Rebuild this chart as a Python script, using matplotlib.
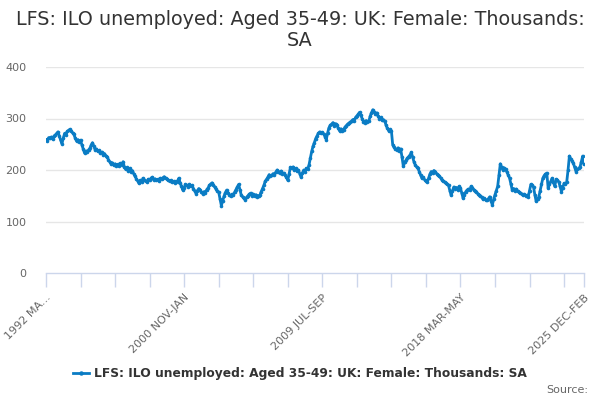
import matplotlib
matplotlib.use("Agg")
import matplotlib.pyplot as plt
from matplotlib.lines import Line2D

title = "LFS: ILO unemployed: Aged 35-49: UK: Female: Thousands:\nSA"
series_name = "LFS: ILO unemployed: Aged 35-49: UK: Female: Thousands: SA"

values = [
    259, 257, 263, 262, 264, 260, 266, 268, 271, 274, 266, 258, 251, 262, 271, 268, 275, 277, 279,
    276, 272, 269, 262, 256, 259, 255, 258, 249, 241, 233,
    237, 235, 239, 242, 248, 253, 246, 239, 241, 236, 238, 233, 235, 230, 232, 228, 226,
    220, 216, 212, 214, 209, 212, 208, 211, 207, 213, 210, 216, 206, 201, 205, 199, 203, 197, 199, 193,
    188, 183, 179, 174, 180, 177, 184, 181, 179, 177, 182, 180, 184, 186, 181, 183, 180,
    182, 179, 184, 182, 185, 187, 184, 182, 180, 178, 180, 176, 178, 175, 178, 177, 184, 175, 168, 161, 166, 172, 170,
    167, 172, 168, 170, 164, 159, 154, 160, 164, 161, 157, 154, 158, 156, 162, 165, 170, 173, 175, 171, 167, 163, 159, 157, 144, 131,
    140, 149, 156, 161, 156, 152, 149, 153, 151, 157, 162, 167, 172, 162, 151, 148, 145, 142, 147, 150, 153, 155, 150, 153, 149, 152, 148, 150, 151, 158, 164, 170,
    178, 182, 186, 191, 188, 190, 193, 191, 196, 200, 197, 195, 198, 193, 194, 190, 186, 180, 193, 205, 203, 206, 200, 203, 198, 200, 193, 186, 194, 200, 197, 203, 201, 210, 223,
    236, 246, 253, 261, 266, 271, 274, 271, 273, 270, 265, 259, 272, 282, 287, 289, 292, 286, 290, 287, 281, 276, 280, 275, 278, 283, 286, 289, 291, 293, 295, 298, 296, 302,
    305, 308, 312, 306, 300, 294, 292, 296, 293, 295, 304, 311, 317, 313, 309, 311, 304, 300, 302, 297, 298, 295, 287, 281, 276, 279, 276, 249,
    244, 241, 239, 243, 237, 241, 225, 207, 215, 219, 223, 226, 229, 234, 225, 216, 210, 206, 203, 197, 190, 184, 186, 181, 179, 177, 184, 192, 197,
    194, 199, 197, 193, 190, 188, 185, 181, 179, 177, 174, 172, 170, 160, 151, 160, 167, 164, 166, 162, 168, 165,
    155, 145, 152, 158, 161, 163, 161, 168, 166, 162, 160, 158, 154, 152, 150, 147, 143, 145, 142, 141, 144, 148, 140, 132, 143, 152, 160, 168, 190, 212,
    205, 200, 204, 201, 196, 190, 184, 172, 161, 164, 160, 163, 159, 157, 156, 154, 152, 153, 150, 151, 148, 160, 172, 170, 167, 152, 139, 143, 148,
    160, 172, 184, 189, 192, 194, 165, 172, 178, 184, 176, 168, 182, 180, 177, 168, 158, 166, 174, 172, 177, 200, 227, 222, 218, 213, 205, 197, 201, 203, 206, 216, 227, 211,
]

tick_labels = ["1992 MA...", "2000 NOV-JAN", "2009 JUL-SEP", "2018 MAR-MAY", "2025 DEC-FEB"]
label_idx = [0, 104, 208, 312, len(values) - 1]
y_ticks = [0, 100, 200, 300, 400]

plt.rcParams['font.family'] = ['DejaVu Sans']

fig = plt.figure(figsize=(6, 4), dpi=100)
ax = fig.add_axes([46 / 600, 1 - 273 / 400, 538 / 600, 206 / 400])

blue = "#0a7cc4"
x = list(range(len(values)))
ax.plot(x, values, color=blue, lw=2, marker="o", ms=2.6, mew=0, zorder=3)

ax.set_xlim(0, len(values) - 1)
ax.set_ylim(0, 400)

for s in ["top", "right", "left"]:
    ax.spines[s].set_visible(False)
ax.spines["bottom"].set_color("#ccd6eb")
ax.spines["bottom"].set_linewidth(1)

ax.set_yticks(y_ticks)
ax.set_yticklabels([str(v) for v in y_ticks], color="#666666", fontsize=8)
ax.tick_params(axis="y", length=0, pad=14)
for v in y_ticks[1:]:
    ax.axhline(v, color="#e6e6e6", lw=1, zorder=0)

minor = list(range(0, len(values), 26)) + [len(values) - 1]
ax.set_xticks(minor)
lab = []
for m in minor:
    if m in label_idx:
        lab.append(tick_labels[label_idx.index(m)])
    else:
        lab.append("")
ax.set_xticklabels(lab, rotation=45, ha="right", va="top", rotation_mode="anchor",
                   color="#666666", fontsize=8)
ax.tick_params(axis="x", length=10, color="#ccd6eb", width=1, pad=4)

fig.text(0.5, 0.975, title, ha="center", va="top", fontsize=13.8, color="#333333",
         linespacing=1.15)

# legend
handle = Line2D([0], [0], color=blue, lw=2, marker="o", ms=3.2, mew=0)
leg = fig.legend([handle], [series_name], loc="center", bbox_to_anchor=(0.5, 1 - 374 / 400),
                 frameon=False, handlelength=1.3, handletextpad=0.4,
                 prop={"weight": "bold", "size": 8.8})
for t in leg.get_texts():
    t.set_color("#333333")

fig.text(588 / 600, 1 - 390 / 400, "Source:", ha="right", va="center", fontsize=8,
         color="#666666")

fig.savefig("out.png", dpi=100)
